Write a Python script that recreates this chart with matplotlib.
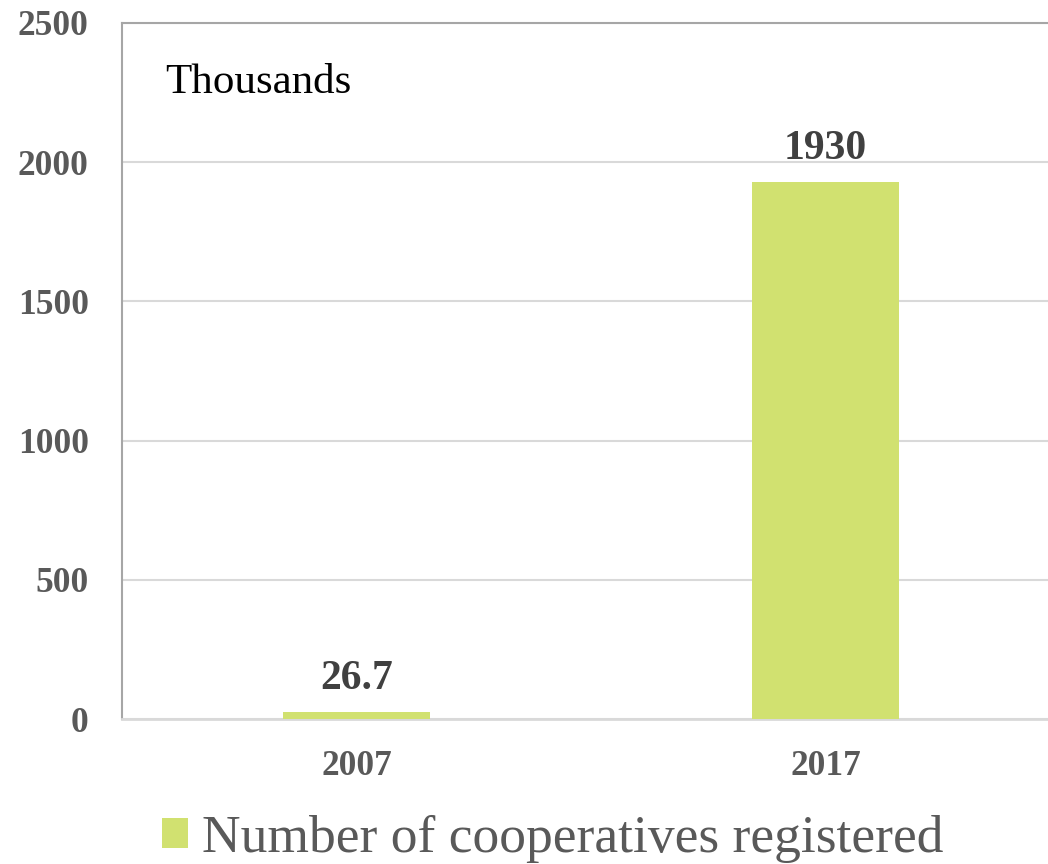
import matplotlib.pyplot as plt
from matplotlib.patches import Patch

years = ['2007', '2017']
cooperatives = [26.7, 1930]
yticks = [0, 500, 1000, 1500, 2000, 2500]

bar_color = '#d1e170'
serif = ['Liberation Serif', 'DejaVu Serif']

plt.rcParams['font.family'] = serif

fig = plt.figure(figsize=(10.48, 8.64), dpi=100)
ax = fig.add_axes([0.1164, 0.1678, 0.895, 0.8056])

x = range(len(years))
bars = ax.bar(x, cooperatives, width=0.313, color=bar_color, zorder=3)

ax.set_xlim(-0.5, 1.5)
ax.set_ylim(0, 2500)
ax.set_yticks(yticks)
ax.set_yticklabels([str(t) for t in yticks], fontsize=25.5, fontweight='bold', color='#595959')
ax.set_xticks(list(x))
ax.set_xticklabels(years, fontsize=25.5, fontweight='bold', color='#595959')
ax.tick_params(axis='y', length=0, pad=24)
ax.tick_params(axis='x', length=0, pad=22)

# light horizontal grid, gray frame on left and top
ax.grid(axis='y', color='#d9d9d9', linewidth=1.5, zorder=0)
ax.spines['left'].set_color('#a6a6a6')
ax.spines['left'].set_linewidth(1.5)
ax.spines['top'].set_color('#a6a6a6')
ax.spines['top'].set_linewidth(1.5)
ax.spines['bottom'].set_color('#d9d9d9')
ax.spines['bottom'].set_linewidth(2)
ax.spines['right'].set_visible(False)

for bar, val in zip(bars, cooperatives):
    label = f'{val:g}'
    ax.annotate(label, (bar.get_x() + bar.get_width() / 2, val),
                xytext=(0, 10), textcoords='offset points',
                ha='center', va='bottom', fontsize=30, fontweight='bold', color='#404040')

ax.text(0.046, 0.914, 'Thousands', transform=ax.transAxes, family=serif,
        fontsize=31, color='black', va='center', ha='left')

handle = Patch(facecolor=bar_color, edgecolor='none')
fig.legend([handle], ['Number of cooperatives registered'], loc='center',
           bbox_to_anchor=(0.527, 0.029), frameon=False,
           prop={'family': serif, 'size': 38.5},
           labelcolor='#595959', handlelength=0.5, handleheight=0.5, handletextpad=0.25)

fig.savefig('out.png', dpi=100)
